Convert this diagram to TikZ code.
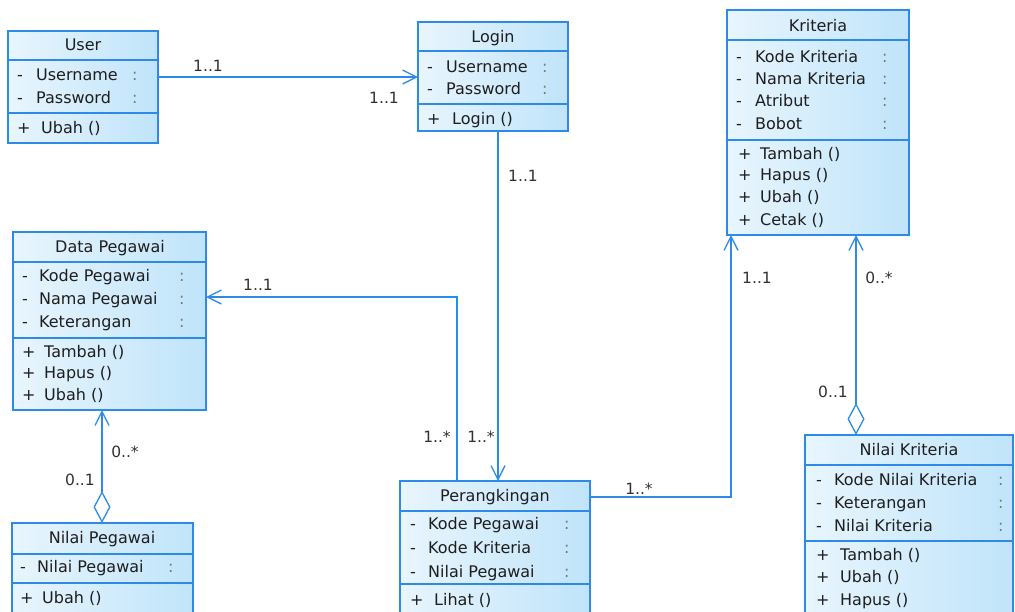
\documentclass[tikz,border=0pt]{standalone}
\usepackage{fontspec}
\setmainfont{DejaVu Sans}
\usetikzlibrary{arrows.meta}
\definecolor{lineblue}{RGB}{45,138,232}
\definecolor{fillA}{RGB}{232,245,253}
\definecolor{fillB}{RGB}{192,228,250}
\definecolor{txtc}{RGB}{30,30,30}
\definecolor{lblc}{RGB}{50,50,50}
\definecolor{colc}{RGB}{120,120,120}
\newcommand\umlcls[7]{%
  \node[umlbox, minimum width={#4-#2}, minimum height={#7-#3}] (#1) at (#2,#3) {};
  \draw[divider] (#1.west |- 0,#5) -- (#1.east |- 0,#5);
  \draw[divider] (#1.west |- 0,#6) -- (#1.east |- 0,#6);
}
\newcommand\ttlrow[4]{\node[ttl] (#1) at (#2,{#3+5.8}) {#4};}
\newcommand\attrrow[6]{\node[txt] (#1) at (#2,{#5+5.8}) {\makebox[\dimexpr #3pt-#2pt\relax][l]{-}\makebox[\dimexpr #4pt-#3pt\relax][l]{#6}\textcolor{colc}{:}};}
\newcommand\methrow[5]{\node[txt] (#1) at (#2,{#4+5.8}) {\makebox[\dimexpr #3pt-#2pt\relax][l]{+}#5};}
\newcommand\lblat[4]{\node[lbl] (#1) at (#2,{#3+5.5}) {#4};}
\begin{document}
\begin{tikzpicture}[x=1pt,y=-1pt,
  umlbox/.style={draw=lineblue, line width=1.2pt, left color=fillA, right color=fillB, rectangle, inner sep=0pt, outer sep=0pt, anchor=north west},
  divider/.style={draw=lineblue, line width=1.2pt},
  txt/.style={font=\fontsize{16}{19}\selectfont, text=txtc, inner sep=0pt, anchor=base west},
  ttl/.style={font=\fontsize{16}{19}\selectfont, text=txtc, inner sep=0pt, anchor=base},
  lbl/.style={font=\fontsize{15.5}{18}\selectfont, text=lblc, inner sep=0pt, anchor=base},
  conn/.style={draw=lineblue, line width=1.3pt},
  tipend/.style={-{Straight Barb[length=14pt,width=14pt]}},
  aggr/.style={{Diamond[length=32pt,width=17pt,fill=white]}-{Straight Barb[length=14pt,width=14pt]}}
]
\clip (0,0) rectangle (1015,611);
\fill[white] (0,0) rectangle (1015,611);
% User
\umlcls{user}{8}{31}{158}{60}{113}{143}
\ttlrow{usert}{83}{45}{User}
\attrrow{ua1}{17}{36}{132}{75}{Username}
\attrrow{ua2}{17}{36}{132}{98}{Password}
\methrow{um1}{17}{41}{128}{Ubah ()}
% Login
\umlcls{login}{418}{22}{568}{51}{104}{131}
\ttlrow{logint}{493}{37}{Login}
\attrrow{la1}{427}{446}{542}{67}{Username}
\attrrow{la2}{427}{446}{542}{89}{Password}
\methrow{lm1}{427}{452}{119}{Login ()}
% Kriteria
\umlcls{kri}{727}{10}{909}{40}{140}{235}
\ttlrow{krit}{818}{26}{Kriteria}
\attrrow{ka1}{736}{755}{882}{57}{Kode Kriteria}
\attrrow{ka2}{736}{755}{882}{79}{Nama Kriteria}
\attrrow{ka3}{736}{755}{882}{101}{Atribut}
\attrrow{ka4}{736}{755}{882}{124}{Bobot}
\methrow{km1}{738}{760}{154}{Tambah ()}
\methrow{km2}{738}{760}{175}{Hapus ()}
\methrow{km3}{738}{760}{197}{Ubah ()}
\methrow{km4}{738}{760}{220}{Cetak ()}
% Data Pegawai
\umlcls{dp}{13}{232}{206}{262}{338}{410}
\ttlrow{dpt}{110}{247}{Data Pegawai}
\attrrow{da1}{22}{39}{179}{276}{Kode Pegawai}
\attrrow{da2}{22}{39}{179}{299}{Nama Pegawai}
\attrrow{da3}{22}{39}{179}{322}{Keterangan}
\methrow{dm1}{22}{44}{352}{Tambah ()}
\methrow{dm2}{22}{44}{373}{Hapus ()}
\methrow{dm3}{22}{44}{395}{Ubah ()}
% Nilai Pegawai
\umlcls{np}{12}{523}{193}{554}{583}{620}
\ttlrow{npt}{102}{538}{Nilai Pegawai}
\attrrow{na1}{20}{37}{168}{567}{Nilai Pegawai}
\methrow{nm1}{20}{42}{598}{Ubah ()}
% Perangkingan
\umlcls{per}{400}{481}{590}{511}{584}{620}
\ttlrow{pert}{495}{496}{Perangkingan}
\attrrow{pa1}{410}{428}{564}{524}{Kode Pegawai}
\attrrow{pa2}{410}{428}{564}{548}{Kode Kriteria}
\attrrow{pa3}{410}{428}{564}{572}{Nilai Pegawai}
\methrow{pm1}{410}{434}{600}{Lihat ()}
% Nilai Kriteria
\umlcls{nk}{805}{435}{1013}{465}{541}{620}
\ttlrow{nkt}{909}{450}{Nilai Kriteria}
\attrrow{ga1}{816}{834}{998}{480}{Kode Nilai Kriteria}
\attrrow{ga2}{816}{834}{998}{503}{Keterangan}
\attrrow{ga3}{816}{834}{998}{526}{Nilai Kriteria}
\methrow{gm1}{816}{840}{555}{Tambah ()}
\methrow{gm2}{816}{840}{577}{Ubah ()}
\methrow{gm3}{816}{840}{600}{Hapus ()}
% connectors
\draw[conn, tipend] (user.east |- 0,77) -- (login.west |- 0,77);
\lblat{l1}{208}{66}{1..1}
\lblat{l2}{384}{98}{1..1}
\draw[conn, tipend] (login.south -| 498,0) -- (per.north -| 498,0);
\lblat{l3}{523}{176}{1..1}
\lblat{l4}{481}{437}{1..*}
\draw[conn, tipend] (per.north -| 457,0) |- (dp.east |- 0,297);
\lblat{l5}{258}{285}{1..1}
\lblat{l6}{437}{437}{1..*}
\draw[conn, tipend] (per.east |- 0,497) -| (kri.south -| 731,0);
\lblat{l7}{639}{489}{1..*}
\lblat{l8}{757}{278}{1..1}
\draw[conn, aggr] (nk.north -| 856,0) -- (kri.south -| 856,0);
\lblat{l9}{879}{278}{0..*}
\lblat{l10}{833}{392}{0..1}
\draw[conn, aggr] (np.north -| 102,0) -- (dp.south -| 102,0);
\lblat{l11}{125}{452}{0..*}
\lblat{l12}{80}{480}{0..1}
\end{tikzpicture}
\end{document}
